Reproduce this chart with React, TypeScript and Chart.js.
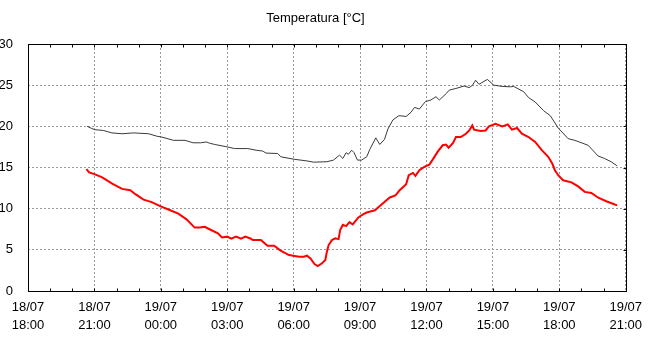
import React, { useEffect, useRef } from "react";
import { Chart, registerables } from "chart.js";

Chart.register(...registerables);

// x values are hours since 18/07 18:00
const tickDates = ["18/07", "18/07", "19/07", "19/07", "19/07", "19/07", "19/07", "19/07", "19/07", "19/07"];
const tickTimes = ["18:00", "21:00", "00:00", "03:00", "06:00", "09:00", "12:00", "15:00", "18:00", "21:00"];

const upperHours = [
  2.67, 3.0, 3.4, 3.79, 4.25, 4.78, 5.1, 5.45, 5.82, 6.04, 6.57, 7.09, 7.46, 7.8, 8.06, 8.2, 8.43, 9.0, 9.33,
  9.93, 10.3, 10.6, 10.75, 11.28, 11.42, 12.02, 12.6, 12.9, 13.5, 13.8, 14.07, 14.22, 14.37, 14.47, 14.62,
  14.73, 14.88, 15.07, 15.3, 15.44, 15.71, 15.89, 16.1, 16.26, 16.49, 16.76, 17.08, 17.3, 17.46, 17.68,
  17.95, 18.2, 18.43, 18.58, 18.9, 19.03, 19.33, 19.7, 19.93, 20.08, 20.22, 20.37, 20.75, 21.04, 21.42,
  21.8, 21.94, 22.39, 22.61, 22.91, 23.29, 23.59, 23.95, 24.4, 24.7, 25.3, 25.75, 26.04, 26.34, 26.61,
];
const upperValues = [
  20.0, 19.6, 19.5, 19.2, 19.1, 19.2, 19.15, 19.1, 18.8, 18.7, 18.3, 18.3, 18.0, 18.0, 18.1, 17.95, 17.8, 17.5, 17.3,
  17.3, 17.1, 17.0, 16.75, 16.7, 16.3, 16.0, 15.8, 15.65, 15.7, 15.9, 16.5, 16.1, 16.8, 16.6, 17.1,
  16.8, 15.9, 15.9, 16.3, 17.2, 18.6, 17.8, 18.4, 19.7, 20.8, 21.3, 21.2, 21.7, 22.3, 22.1,
  23.0, 23.2, 23.6, 23.2, 24.0, 24.4, 24.6, 24.9, 24.7, 25.0, 25.6, 25.1, 25.7, 25.0, 24.85,
  24.8, 24.85, 24.2, 23.5, 22.95, 21.9, 21.3, 19.8, 18.5, 18.3, 17.7, 16.4, 16.1, 15.7, 15.2,
];

const lowerHours = [
  2.64, 2.76, 3.0, 3.35, 3.8, 4.25, 4.62, 4.85, 5.22, 5.59, 5.97, 6.34, 6.79, 7.16, 7.53, 7.76, 7.98, 8.2,
  8.58, 8.76, 9.0, 9.18, 9.4, 9.62, 9.82, 10.07, 10.15, 10.52, 10.82, 11.12, 11.41, 11.79, 12.24, 12.46,
  12.6, 12.76, 12.94, 13.09, 13.28, 13.43, 13.5, 13.58, 13.73, 13.88, 14.03, 14.1, 14.22, 14.37, 14.52,
  14.67, 14.92, 15.15, 15.3, 15.67, 15.97, 16.34, 16.6, 16.79, 17.08, 17.2, 17.39, 17.5, 17.68, 17.9,
  18.13, 18.28, 18.5, 18.73, 18.88, 19.0, 19.2, 19.33, 19.55, 19.78, 19.93, 20.07, 20.15, 20.45, 20.67,
  20.82, 21.12, 21.42, 21.67, 21.86, 22.09, 22.31, 22.61, 22.91, 23.21, 23.5, 23.68, 23.8, 23.95, 24.17,
  24.55, 24.85, 25.15, 25.45, 25.74, 26.12, 26.42, 26.61,
];
const lowerValues = [
  14.8, 14.4, 14.2, 13.8, 13.05, 12.4, 12.24, 11.76, 11.1, 10.8, 10.3, 9.9, 9.4, 8.7, 7.7, 7.7, 7.8, 7.5,
  7.0, 6.5, 6.6, 6.35, 6.6, 6.35, 6.6, 6.35, 6.2, 6.2, 5.5, 5.5, 4.9, 4.36, 4.16, 4.16,
  4.3, 3.96, 3.27, 3.03, 3.36, 3.76, 4.76, 5.58, 6.18, 6.39, 6.3, 7.4, 8.04, 7.88, 8.36,
  8.08, 8.93, 9.33, 9.53, 9.8, 10.5, 11.36, 11.6, 12.24, 12.97, 14.06, 14.34, 13.98, 14.67, 15.07,
  15.35, 15.96, 16.89, 17.7, 17.78, 17.4, 17.98, 18.7, 18.7, 19.1, 19.5, 20.1, 19.6, 19.43, 19.5,
  20.0, 20.3, 20.0, 20.24, 19.6, 19.8, 19.1, 18.7, 18.1, 17.1, 16.3, 15.5, 14.67, 14.06, 13.45,
  13.2, 12.7, 12.04, 11.9, 11.36, 10.9, 10.6, 10.4,
];

const FONT = "'Liberation Sans', Arial, sans-serif";

const framePlugin = {
  id: "frameTicks",
  afterDatasetsDraw(chart: any) {
    const { ctx, chartArea } = chart;
    const xs = chart.scales.x;
    const ys = chart.scales.y;
    const l = Math.round(chartArea.left) + 0.5;
    const r = Math.round(chartArea.right) + 0.5;
    const t = Math.round(chartArea.top) + 0.5;
    const b = Math.round(chartArea.bottom) + 0.5;
    ctx.save();
    ctx.strokeStyle = "#000";
    ctx.lineWidth = 1;
    ctx.setLineDash([]);
    ctx.beginPath();
    // minor ticks every hour on top and bottom edges
    for (let h = 1; h < 27; h++) {
      const px = Math.round(xs.getPixelForValue(h)) + 0.5;
      ctx.moveTo(px, t);
      ctx.lineTo(px, t + 3);
      ctx.moveTo(px, b);
      ctx.lineTo(px, b - 3);
    }
    // ticks on right edge
    for (let v = 5; v < 30; v += 5) {
      const py = Math.round(ys.getPixelForValue(v)) + 0.5;
      ctx.moveTo(r, py);
      ctx.lineTo(r - 3, py);
    }
    ctx.stroke();
    ctx.strokeRect(l, t, r - l, b - t);
    ctx.restore();
  },
};

export default function App() {
  const ref = useRef<HTMLCanvasElement | null>(null);
  useEffect(() => {
    if (!ref.current) return;
    const chart = new Chart(ref.current, {
      type: "line",
      data: {
        datasets: [
          {
            label: "upper",
            data: upperHours.map((h, i) => ({ x: h, y: upperValues[i] })),
            borderColor: "#3a3a3a",
            borderWidth: 1,
            pointRadius: 0,
            tension: 0,
            fill: false,
          },
          {
            label: "lower",
            data: lowerHours.map((h, i) => ({ x: h, y: lowerValues[i] })),
            borderColor: "#ff0000",
            borderWidth: 2,
            pointRadius: 0,
            tension: 0,
            fill: false,
          },
        ],
      },
      options: {
        animation: false,
        responsive: false,
        maintainAspectRatio: false,
        layout: { padding: { left: 0, right: 19, top: 0, bottom: 0 } },
        plugins: {
          legend: { display: false },
          tooltip: { enabled: false },
          title: {
            display: true,
            text: "Temperatura [°C]",
            color: "#000",
            font: { family: FONT, size: 13, weight: "normal" },
            padding: { top: 11, bottom: 17.4 },
          },
        },
        scales: {
          x: {
            type: "linear",
            min: 0,
            max: 27,
            grid: { color: "#999999", drawTicks: false, lineWidth: 1 },
            border: { display: false, dash: [2, 2] },
            ticks: {
              stepSize: 3,
              autoSkip: false,
              maxRotation: 0,
              padding: 8,
              color: "#000",
              font: { family: FONT, size: 13, lineHeight: 1.33 },
              callback: (v: any) => {
                const i = Math.round(Number(v) / 3);
                return [tickDates[i], tickTimes[i]];
              },
            },
            afterFit: (s: any) => {
              s.height = 51;
            },
          },
          y: {
            min: 0,
            max: 30,
            grid: { color: "#999999", drawTicks: false, lineWidth: 1 },
            border: { display: false, dash: [2, 2] },
            ticks: {
              stepSize: 5,
              padding: 15,
              color: "#000",
              font: { family: FONT, size: 13 },
            },
            afterFit: (s: any) => {
              s.width = 28;
            },
          },
        },
      },
      plugins: [framePlugin],
    });
    return () => chart.destroy();
  }, []);
  return (
    <div style={{ position: "fixed", left: 0, top: 0, width: 650, height: 342, background: "#fff" }}>
      <canvas ref={ref} width={650} height={342} style={{ width: 650, height: 342, display: "block" }} />
    </div>
  );
}
